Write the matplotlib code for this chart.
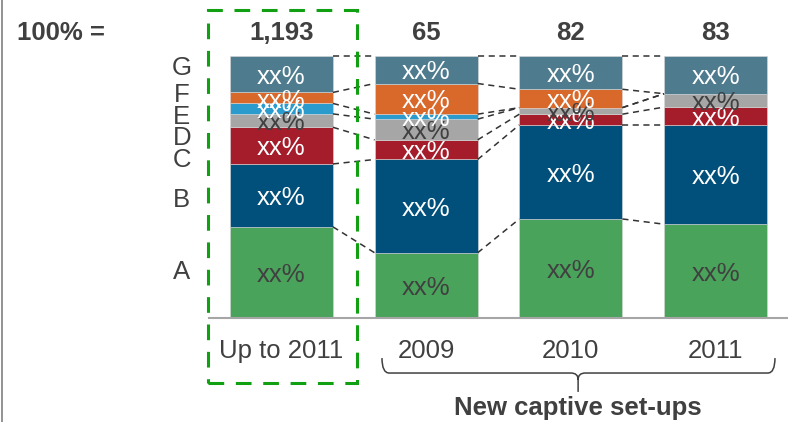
import matplotlib
matplotlib.use('Agg')
import matplotlib.pyplot as plt
from matplotlib.path import Path
from matplotlib.patches import PathPatch, Rectangle
from matplotlib.lines import Line2D
import numpy as np

plt.rcParams['font.family'] = ['Liberation Sans', 'DejaVu Sans']

# data (shares in % of each bar, bottom to top)
categories = ['Up to 2011', '2009', '2010', '2011']
totals = ['1,193', '65', '82', '83']
segments = ['A', 'B', 'C', 'D', 'E', 'F', 'G']
share_a = [34.8, 24.9, 37.8, 35.8]
share_b = [24.0, 35.6, 35.9, 37.9]
share_c = [14.0, 7.5, 4.1, 6.8]
share_d = [5.1, 7.9, 2.5, 5.1]
share_e = [4.0, 1.9, 0.0, 0.0]
share_f = [4.2, 11.7, 7.0, 0.0]
share_g = [13.9, 10.5, 12.7, 14.4]
shares = [share_a, share_b, share_c, share_d, share_e, share_f, share_g]

# styles
seg_colors = ['#4aa35b', '#00507b', '#a51c2a', '#a6a6a6', '#2b9acd', '#d9682b', '#4e7b8e']
txt_colors = ['#404040', 'white', 'white', '#404040', 'white', 'white', 'white']
letter_y = [17.6, 45.0, 60.3, 68.7, 76.7, 85.1, 95.4]
dark = '#404040'
fs = 18.5
bar_w = 0.712

fig = plt.figure(figsize=(7.88, 4.22), dpi=100)
ax = fig.add_axes([209 / 788, 104 / 422, 579 / 788, 262 / 422])
ax.set_xlim(-0.5, 3.5)
ax.set_ylim(0, 100)

x = np.arange(len(categories))
bottom = np.zeros(len(categories))
cum = [bottom.copy()]
for k, vals in enumerate(shares):
    vals = np.array(vals)
    ax.bar(x, vals, bottom=bottom, width=bar_w, color=seg_colors[k],
           edgecolor='#d8d8d8', linewidth=0.4, zorder=2)
    for i in range(len(x)):
        if vals[i] > 0:
            ax.text(x[i], bottom[i] + vals[i] / 2 - 1.0, 'xx%', ha='center', va='center',
                    color=txt_colors[k], fontsize=fs, zorder=4)
    bottom = bottom + vals
    cum.append(bottom.copy())

# dashed connectors between neighbouring bars
for i in range(len(x) - 1):
    for k in range(1, len(cum)):
        ax.plot([x[i] + bar_w / 2, x[i + 1] - bar_w / 2], [cum[k][i], cum[k][i + 1]],
                color='#333333', lw=1.1, dashes=(4, 3), zorder=3, clip_on=False)

# segment letters
for k, s in enumerate(segments):
    ax.text(-0.688, letter_y[k], s, ha='center', va='center', color=dark, fontsize=fs)

# totals
for i, t in enumerate(totals):
    ax.text(x[i], 108.8, t, ha='center', va='center', color=dark, fontsize=fs,
            fontweight='bold', clip_on=False)
fig.text(17 / 788, 1 - 33 / 422, '100% =', ha='left', va='center', color=dark,
         fontsize=fs, fontweight='bold')

ax.set_xticks(x)
ax.set_xticklabels(categories, fontsize=fs, color=dark)
ax.tick_params(axis='x', length=0, pad=15)
ax.set_yticks([])
for sp in ['left', 'right', 'top']:
    ax.spines[sp].set_visible(False)
ax.spines['bottom'].set_color('#a6a6a6')
ax.spines['bottom'].set_linewidth(1.5)

# green dashed box around first bar
lw_box = 2.2
box = Rectangle((-0.508, -24.8), 1.03, 142.4, fill=False, edgecolor='#11a011',
                linewidth=lw_box, linestyle=(0, (11.3 / lw_box, 8.4 / lw_box)),
                clip_on=False, zorder=5)
ax.add_patch(box)

# brace under new set-ups
x0, x1, xm = 0.695, 3.41, 2.05
ye, yl, yt = -15.3, -21.0, -28.2
rx, ry = 0.05, 2.5
verts = [(x0, ye), (x0, yl), (x0 + rx, yl),
         (xm - rx, yl), (xm, yl), (xm, yl - ry),
         (xm, yt),
         (xm, yl - ry), (xm, yl), (xm + rx, yl),
         (x1 - rx, yl), (x1, yl), (x1, ye)]
codes = [Path.MOVETO, Path.CURVE3, Path.CURVE3,
         Path.LINETO, Path.CURVE3, Path.CURVE3,
         Path.LINETO,
         Path.MOVETO, Path.CURVE3, Path.CURVE3,
         Path.LINETO, Path.CURVE3, Path.CURVE3]
ax.add_patch(PathPatch(Path(verts, codes), fill=False, edgecolor='#404040',
                       linewidth=1.1, clip_on=False))
ax.text(xm, -34.4, 'New captive set-ups', ha='center', va='center', color=dark,
        fontsize=fs, fontweight='bold', clip_on=False)

# left frame line
fig.add_artist(Line2D([2 / 788, 2 / 788], [0, 1], color='#808080', lw=1.2))

fig.savefig('out.png', dpi=100)
